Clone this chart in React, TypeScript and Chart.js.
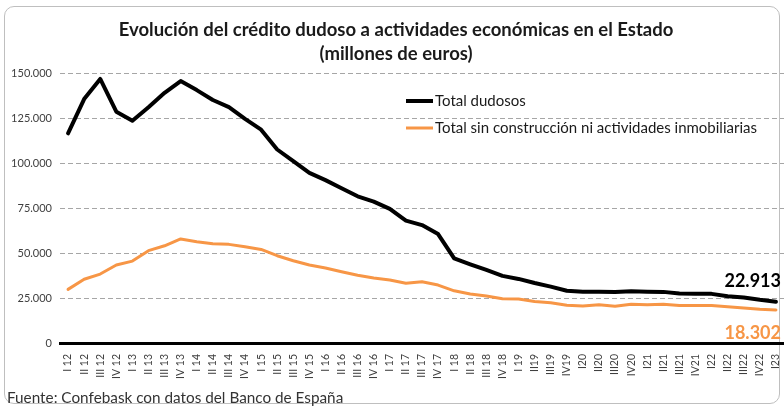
import React, { useEffect, useRef } from "react";
import { Chart, registerables } from "chart.js";

Chart.register(...registerables);

const titleLines = [
  "Evolución del crédito dudoso a actividades económicas en el Estado",
  "(millones de euros)",
];
const sourceNote = "Fuente: Confebask con datos del Banco de España";

const quarters = [
  "I 12", "II 12", "III 12", "IV 12",
  "I 13", "II 13", "III 13", "IV 13",
  "I 14", "II 14", "III 14", "IV 14",
  "I 15", "II 15", "III 15", "IV 15",
  "I 16", "II 16", "III 16", "IV 16",
  "I 17", "II 17", "III 17", "IV 17",
  "I 18", "II 18", "III 18", "IV 18",
  "I 19", "II19", "III19", "IV19",
  "I20", "II20", "III20", "IV20",
  "I21", "II21", "III21", "IV21",
  "I22", "II22", "III22", "IV22",
  "I23",
];

const totalDudosos = [
  116500, 135500, 146700, 128500,
  123500, 131000, 139000, 145500,
  140500, 135000, 131000, 124500,
  118500, 107500, 101000, 94500,
  90500, 86000, 81500, 78500,
  74500, 68000, 65500, 60500,
  47000, 43700, 40600, 37300,
  35600, 33300, 31300, 29000,
  28500, 28500, 28300, 28700,
  28500, 28400, 27500, 27300,
  27300, 26000, 25300, 24000,
  22913,
];

const sinConstruccion = [
  29800, 35400, 38300, 43300,
  45500, 51300, 54000, 57800,
  56300, 55200, 54800, 53500,
  52000, 48500, 45700, 43300,
  41700, 39600, 37600, 36100,
  35000, 33200, 34000, 32200,
  29000, 27200, 26100, 24600,
  24400, 23000, 22400, 21000,
  20600, 21200, 20400, 21500,
  21300, 21500, 20800, 20800,
  20800, 20200, 19400, 18700,
  18302,
];

const seriesNames = [
  "Total dudosos",
  "Total sin construcción ni actividades inmobiliarias",
];
const seriesColors = ["#000000", "#F79646"];
const lastValueLabels = ["22.913", "18.302"];

const yMin = 0;
const yMax = 150000;
const yStep = 25000;

const FONT = "Lato, 'Open Sans', sans-serif";

function fmtThousands(v: number): string {
  const s = Math.round(v).toString();
  return s.replace(/\B(?=(\d{3})+(?!\d))/g, ".");
}

const legendPlugin = {
  id: "customLegend",
  afterDraw(chart: any) {
    const ctx = chart.ctx;
    const x0 = 406;
    const rows = [101, 128];
    ctx.save();
    chart.data.datasets.forEach((ds: any, i: number) => {
      const y = rows[i];
      ctx.strokeStyle = ds.borderColor;
      ctx.lineWidth = i === 0 ? 4 : 3;
      ctx.beginPath();
      ctx.moveTo(x0, y);
      ctx.lineTo(x0 + 27, y);
      ctx.stroke();
      ctx.fillStyle = "#1a1a1a";
      ctx.font = `15px ${FONT}`;
      ctx.textAlign = "left";
      ctx.textBaseline = "middle";
      ctx.fillText(ds.label, x0 + 29, y);
    });
    ctx.restore();
  },
};

const endLabelPlugin = {
  id: "endLabels",
  afterDatasetsDraw(chart: any) {
    const ctx = chart.ctx;
    ctx.save();
    ctx.font = `bold 18px ${FONT}`;
    ctx.textAlign = "right";
    ctx.textBaseline = "middle";
    chart.data.datasets.forEach((ds: any, i: number) => {
      const meta = chart.getDatasetMeta(i);
      const pt = meta.data[meta.data.length - 1];
      if (!pt) return;
      ctx.fillStyle = ds.borderColor;
      const dy = i === 0 ? -21 : 23;
      ctx.fillText(lastValueLabels[i], pt.x + 5, pt.y + dy);
    });
    ctx.restore();
  },
};

export default function App() {
  const canvasRef = useRef<HTMLCanvasElement | null>(null);

  useEffect(() => {
    if (!canvasRef.current) return;
    const chart = new Chart(canvasRef.current, {
      type: "line",
      data: {
        labels: quarters,
        datasets: [
          {
            label: seriesNames[0],
            data: totalDudosos,
            borderColor: seriesColors[0],
            backgroundColor: seriesColors[0],
            borderWidth: 4,
            pointRadius: 0,
            tension: 0,
            borderJoinStyle: "round",
            borderCapStyle: "round",
          },
          {
            label: seriesNames[1],
            data: sinConstruccion,
            borderColor: seriesColors[1],
            backgroundColor: seriesColors[1],
            borderWidth: 3,
            pointRadius: 0,
            tension: 0,
            borderJoinStyle: "round",
            borderCapStyle: "round",
          },
        ],
      },
      options: {
        responsive: false,
        animation: false,
        layout: { padding: { left: 8, right: 0, top: 0, bottom: 26 } },
        plugins: {
          legend: { display: false },
          tooltip: { enabled: false },
          title: {
            display: true,
            text: titleLines,
            color: "#1a1a1a",
            font: { family: FONT, size: 18.5, weight: "bold", lineHeight: "24px" },
            padding: { top: 18, bottom: 7 },
          },
        },
        scales: {
          x: {
            type: "category",
            offset: true,
            grid: { display: false },
            border: { display: true, color: "#000000", width: 3 },
            ticks: {
              autoSkip: false,
              maxRotation: 90,
              minRotation: 90,
              padding: 3,
              color: "#404040",
              font: { family: FONT, size: 10.5 },
            },
            afterFit(scale: any) {
              scale.height = 38;
              scale.paddingLeft = 0;
              scale.paddingRight = 0;
            },
          },
          y: {
            min: yMin,
            max: yMax,
            border: { display: false, dash: [5, 3] },
            grid: {
              color: (c: any) =>
                c.tick && c.tick.value === 0 ? "rgba(0,0,0,0)" : "#A6A6A6",
              lineWidth: 1,
              drawTicks: false,
            },
            ticks: {
              stepSize: yStep,
              padding: 8,
              color: "#404040",
              font: { family: FONT, size: 11 },
              callback: (v: any) => fmtThousands(Number(v)),
            },
            afterFit(scale: any) {
              scale.width = 52;
            },
          },
        },
      },
      plugins: [legendPlugin, endLabelPlugin],
    });
    return () => chart.destroy();
  }, []);

  return (
    <div
      style={{
        position: "fixed",
        left: 0,
        top: 0,
        width: 784,
        height: 407,
        background: "#ffffff",
        overflow: "hidden",
      }}
    >
      <div
        style={{
          position: "absolute",
          left: 4,
          top: 6,
          width: 776,
          height: 398,
          border: "1px solid #BFBFBF",
          borderRadius: 10,
          boxSizing: "border-box",
        }}
      />
      <canvas
        ref={canvasRef}
        width={784}
        height={407}
        style={{ position: "absolute", left: 0, top: 0, width: 784, height: 407 }}
      />
      <div
        style={{
          position: "absolute",
          left: 7,
          top: 387,
          fontFamily: FONT,
          fontSize: 15.3,
          color: "#333333",
          lineHeight: "20px",
          whiteSpace: "nowrap",
        }}
      >
        {sourceNote}
      </div>
    </div>
  );
}
